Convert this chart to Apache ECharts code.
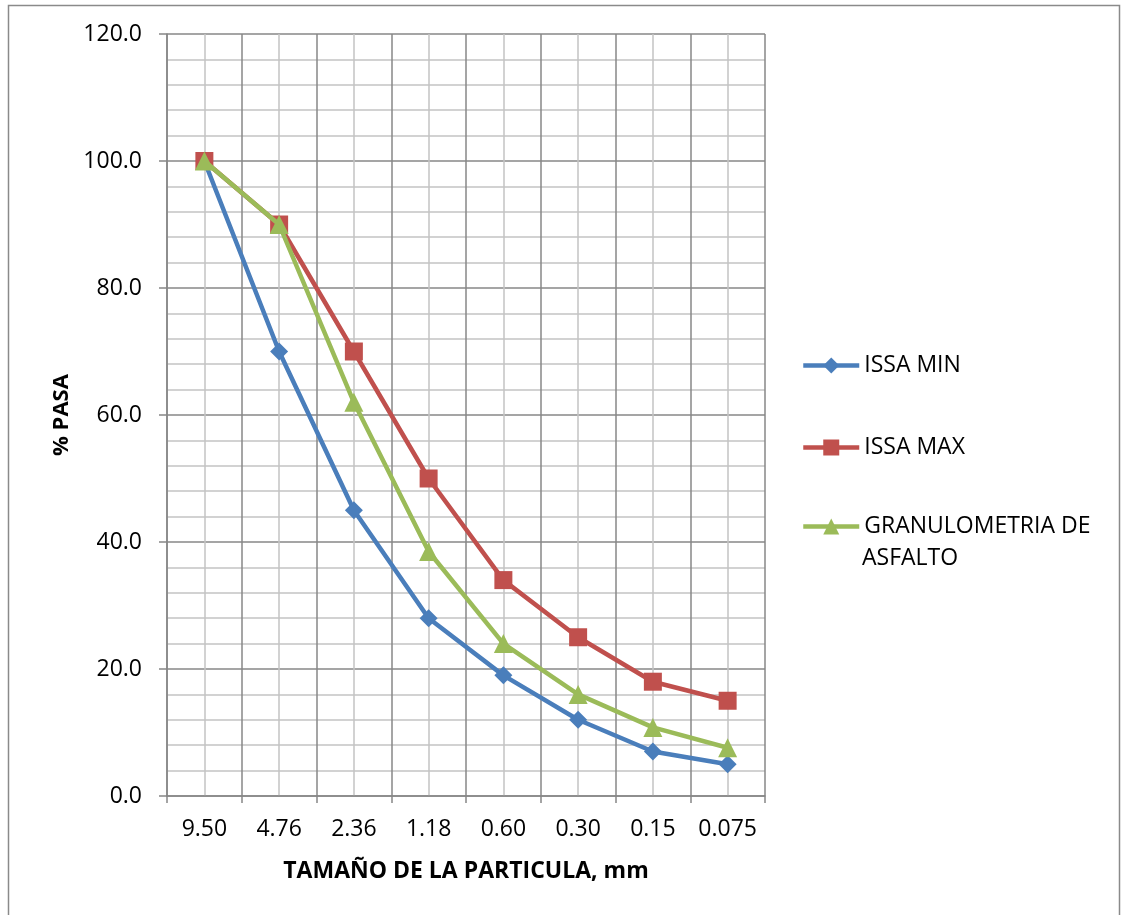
<!DOCTYPE html>
<html>
<head>
<meta charset="utf-8">
<script src="https://cdn.jsdelivr.net/npm/echarts@6/dist/echarts.min.js"></script>
<style>
  html, body { margin: 0; padding: 0; background: #fff; }
  #chart { width: 1121px; height: 915px; }
</style>
</head>
<body>
<div id="chart"></div>
<script>
// Sieve sizes (mm) and percent passing for each gradation curve
const sieves = ['9.50', '4.76', '2.36', '1.18', '0.60', '0.30', '0.15', '0.075'];
const issaMin = [100, 70, 45, 28, 19, 12, 7, 5];
const issaMax = [100, 90, 70, 50, 34, 25, 18, 15];
const granulometria = [100, 90, 62, 38.5, 24, 16, 10.8, 7.6];

const FONT = '"Open Sans", "Liberation Sans", sans-serif';
const MAJOR = '#878787';
const MINOR = '#c4c4c4';
const TEXT_SIZE = 23;

const chart = echarts.init(document.getElementById('chart'));

const legendBase = {
  orient: 'vertical',
  left: 801,
  padding: 0,
  itemWidth: 56,
  itemHeight: 20,
  itemGap: 0,
  lineStyle: { width: 4.5 },
  textStyle: { fontFamily: FONT, fontSize: TEXT_SIZE, color: '#000' }
};

chart.setOption({
  animation: false,
  backgroundColor: '#fff',
  graphic: [{
    type: 'rect',
    silent: true,
    shape: { x: 8.5, y: 5.5, width: 1111, height: 930 },
    style: { fill: 'none', stroke: '#8a8a8a', lineWidth: 1.5 }
  }, {
    // second line of the third legend entry
    type: 'text',
    silent: true,
    left: 862,
    top: 547,
    style: { text: 'ASFALTO', fontFamily: FONT, fontSize: TEXT_SIZE, fill: '#000' }
  }],
  grid: { left: 167, right: 356, top: 34, bottom: 119, containLabel: false },
  legend: [
    Object.assign({}, legendBase, { top: 354, data: ['ISSA MIN'] }),
    Object.assign({}, legendBase, { top: 436, data: ['ISSA MAX'] }),
    Object.assign({}, legendBase, {
      top: 515,
      data: ['GRANULOMETRIA DE ASFALTO'],
      formatter: () => 'GRANULOMETRIA DE'
    })
  ],
  xAxis: [{
    type: 'category',
    data: sieves,
    boundaryGap: true,
    name: 'TAMAÑO DE LA PARTICULA, mm',
    nameLocation: 'middle',
    nameGap: 64,
    nameTextStyle: { fontFamily: FONT, fontSize: 23, fontWeight: 'bold', color: '#000' },
    axisLine: { show: true, lineStyle: { color: MAJOR, width: 1.5 } },
    axisTick: { show: true, interval: 0, length: 7, lineStyle: { color: MAJOR, width: 1.5 } },
    axisLabel: { interval: 0, fontFamily: FONT, fontSize: TEXT_SIZE, color: '#000', margin: 22 },
    splitLine: { show: false }
  }, {
    // grid-only axis: band boundaries as major lines, band centres as minor lines
    type: 'value',
    min: 0,
    max: 8,
    interval: 1,
    position: 'bottom',
    axisLine: { show: false },
    axisTick: { show: false },
    axisLabel: { show: false },
    splitLine: { show: true, lineStyle: { color: MAJOR, width: 1.5 } },
    minorTick: { show: true, splitNumber: 2, length: 0 },
    minorSplitLine: { show: true, lineStyle: { color: MINOR, width: 1.5 } }
  }],
  yAxis: {
    type: 'value',
    min: 0,
    max: 120,
    interval: 20,
    name: '% PASA',
    nameLocation: 'middle',
    nameGap: 94,
    nameRotate: 90,
    nameTextStyle: { fontFamily: FONT, fontSize: 22, fontWeight: 'bold', color: '#000' },
    axisLine: { show: true, lineStyle: { color: MAJOR, width: 1.5 } },
    axisTick: { show: true, length: 8, lineStyle: { color: MAJOR, width: 1.5 } },
    axisLabel: { fontFamily: FONT, fontSize: TEXT_SIZE, color: '#000', margin: 25, formatter: v => v.toFixed(1) },
    splitLine: { show: true, lineStyle: { color: MAJOR, width: 1.5 } },
    minorTick: { show: true, splitNumber: 5, length: 0 },
    minorSplitLine: { show: true, lineStyle: { color: MINOR, width: 1.5 } }
  },
  series: [{
    name: 'ISSA MIN',
    type: 'line',
    data: issaMin,
    symbol: 'diamond',
    symbolSize: 18,
    lineStyle: { color: '#4a7ebb', width: 4.5 },
    itemStyle: { color: '#4a7ebb' },
    z: 3
  }, {
    name: 'ISSA MAX',
    type: 'line',
    data: issaMax,
    symbol: 'rect',
    symbolSize: 18,
    lineStyle: { color: '#c0504d', width: 4.5 },
    itemStyle: { color: '#c0504d' },
    z: 4
  }, {
    name: 'GRANULOMETRIA DE ASFALTO',
    type: 'line',
    data: granulometria,
    symbol: 'triangle',
    symbolSize: 19,
    lineStyle: { color: '#9bbb59', width: 4.5 },
    itemStyle: { color: '#9bbb59' },
    z: 5
  }]
});
</script>
</body>
</html>
